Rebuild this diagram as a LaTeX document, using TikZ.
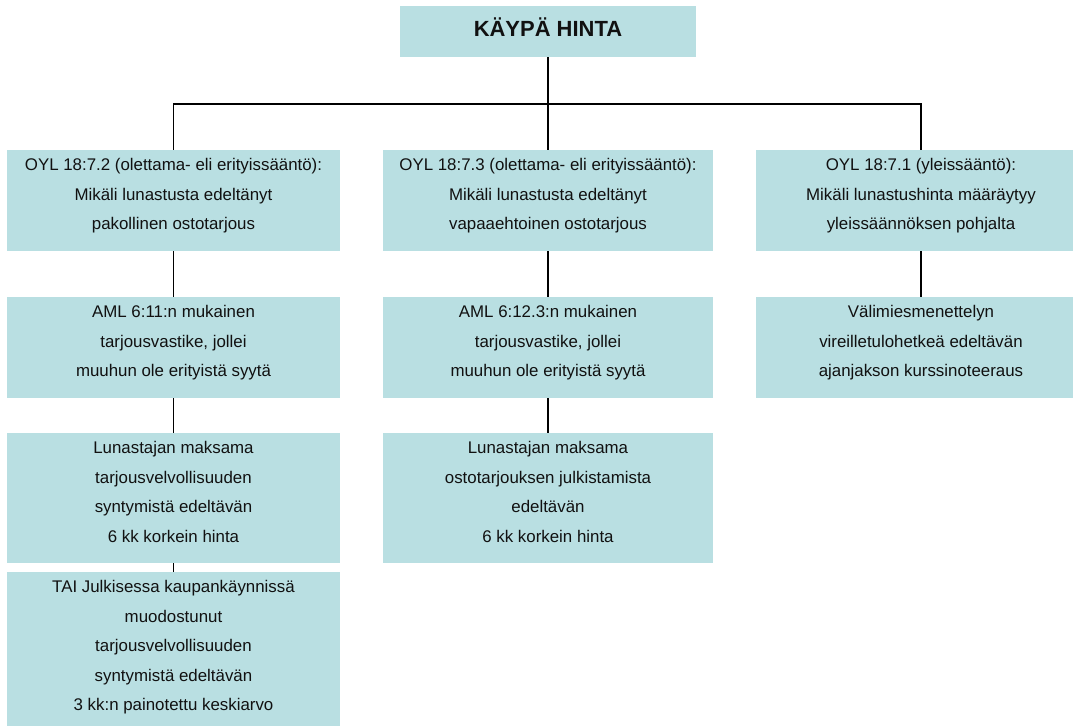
\documentclass[tikz,border=0pt]{standalone}
\usepackage{fontspec}
\setmainfont{Liberation Sans}
\usepackage{tikz}
\usepackage{xcolor}
\usetikzlibrary{positioning,calc}
\definecolor{boxfill}{HTML}{B9DFE2}
\definecolor{ink}{HTML}{111111}
\tikzset{
  rulebox/.style={fill=boxfill,draw=none,align=center,inner sep=0pt,
                  text=ink,font=\fontsize{9.6}{16.8}\selectfont,text depth=0.25cm},
  titlebox/.style={fill=boxfill,draw=none,align=center,inner sep=0pt,
                   text=ink,font=\fontsize{12.5}{15}\selectfont\bfseries,text depth=0.18cm,
                   minimum width=5.92cm,minimum height=1.02cm},
  link/.style={draw=black,line width=1pt}
}

\begin{document}
\begin{tikzpicture}[x=0.02cm,y=-0.02cm]
  \useasboundingbox (0,0) rectangle (1073,726);
  \clip (0,0) rectangle (1073,726);
  % ---- top ----
  \node[titlebox] (hinta) at (548,31.5) {KÄYPÄ HINTA};
  \coordinate (bus) at (548,104);
  % ---- row 1: the three rules ----
  \node[rulebox,minimum width=6.66cm,minimum height=2.02cm] (pak) at (173.5,200.5)
    {OYL 18:7.2 (olettama- eli erityissääntö):\\Mikäli lunastusta edeltänyt\\pakollinen ostotarjous};
  \node[rulebox,minimum width=6.62cm,minimum height=2.02cm] (vap) at (548,200.5)
    {OYL 18:7.3 (olettama- eli erityissääntö):\\Mikäli lunastusta edeltänyt\\vapaaehtoinen ostotarjous};
  \node[rulebox,minimum width=6.6cm,minimum height=2.02cm] (yle) at (921,200.5)
    {OYL 18:7.1 (yleissääntö):\\Mikäli lunastushinta määräytyy\\yleissäännöksen pohjalta};
  % ---- row 2 ----
  \node[rulebox,minimum width=6.66cm,minimum height=2.02cm] (pakAml) at (173.5,347.5)
    {AML 6:11:n mukainen\\tarjousvastike, jollei\\muuhun ole erityistä syytä};
  \node[rulebox,minimum width=6.62cm,minimum height=2.02cm] (vapAml) at (548,347.5)
    {AML 6:12.3:n mukainen\\tarjousvastike, jollei\\muuhun ole erityistä syytä};
  \node[rulebox,minimum width=6.6cm,minimum height=2.02cm] (yleKurssi) at (921,347.5)
    {Välimiesmenettelyn\\vireilletulohetkeä edeltävän\\ajanjakson kurssinoteeraus};
  % ---- row 3 ----
  \node[rulebox,minimum width=6.66cm,minimum height=2.6cm] (pakHinta) at (173.5,498)
    {Lunastajan maksama\\tarjousvelvollisuuden\\syntymistä edeltävän\\6 kk korkein hinta};
  \node[rulebox,minimum width=6.62cm,minimum height=2.6cm] (vapHinta) at (548,498)
    {Lunastajan maksama\\ostotarjouksen julkistamista\\edeltävän\\6 kk korkein hinta};
  % ---- row 4 ----
  \node[rulebox,minimum width=6.66cm,minimum height=3.2cm] (pakKa) at (173.5,652)
    {TAI Julkisessa kaupankäynnissä\\muodostunut\\tarjousvelvollisuuden\\syntymistä edeltävän\\3 kk:n painotettu keskiarvo};
  % ---- connectors ----
  \draw[link] (hinta.south) -- (bus);
  \draw[link] (pak.north) |- (bus) -| (yle.north);
  \draw[link] (bus) -- (vap.north);
  \draw[link] (pak.south) -- (pakAml.north);
  \draw[link] (pakAml.south) -- (pakHinta.north);
  \draw[link] (pakHinta.south) -- (pakKa.north);
  \draw[link] (vap.south) -- (vapAml.north);
  \draw[link] (vapAml.south) -- (vapHinta.north);
  \draw[link] (yle.south) -- (yleKurssi.north);
\end{tikzpicture}
\end{document}
